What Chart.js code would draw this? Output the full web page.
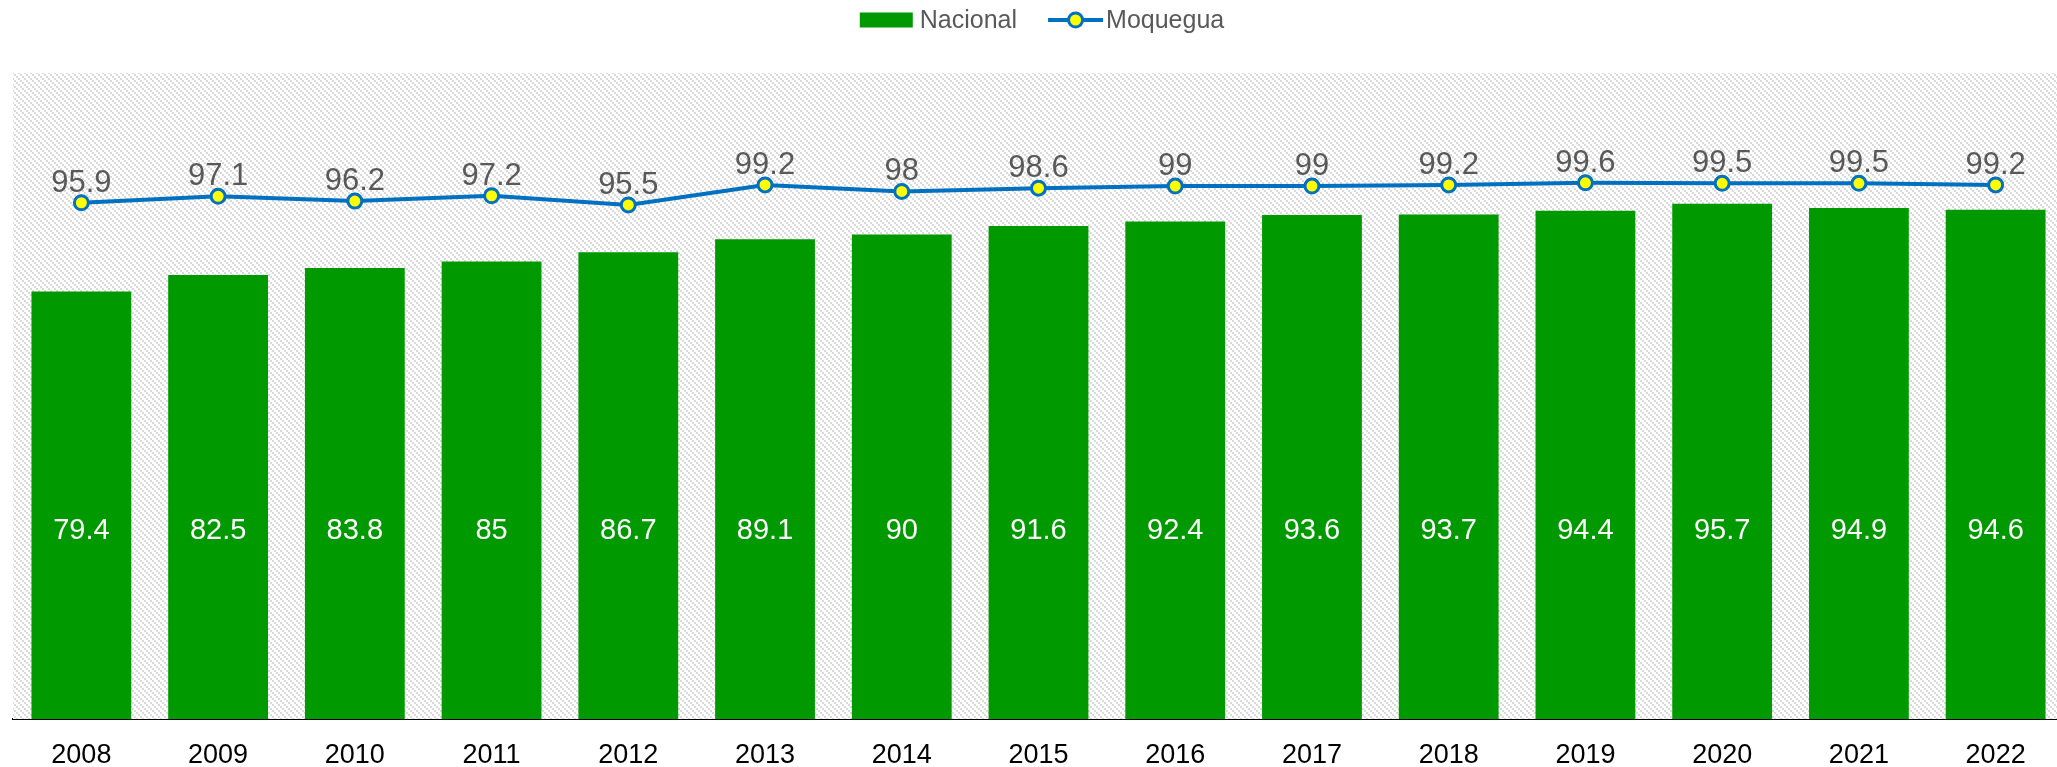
<!DOCTYPE html>
<html>
<head>
<meta charset="utf-8">
<script src="https://cdn.jsdelivr.net/npm/chart.js@4/dist/chart.umd.min.js"></script>
<style>
  html, body { margin: 0; padding: 0; background: #fff; overflow: hidden; width: 2057px; height: 767px; }
  #c { display: block; }
</style>
</head>
<body>
<canvas id="c" width="2084" height="767"></canvas>
<script>
const years = ['2008','2009','2010','2011','2012','2013','2014','2015','2016','2017','2018','2019','2020','2021','2022'];
const nacional = [79.4, 82.5, 83.8, 85, 86.7, 89.1, 90, 91.6, 92.4, 93.6, 93.7, 94.4, 95.7, 94.9, 94.6];
const moquegua = [95.9, 97.1, 96.2, 97.2, 95.5, 99.2, 98, 98.6, 99, 99, 99.2, 99.6, 99.5, 99.5, 99.2];
const seriesNames = ['Nacional', 'Moquegua'];

const GREEN = '#009900';
const BLUE = '#0070C0';
const YELLOW = '#FFFF00';
const FONT = '"Liberation Sans", Arial, sans-serif';
const NARROW = '"Liberation Sans Narrow", "Arial Narrow", "Liberation Sans", sans-serif';

function hatchPattern(ctx) {
  const n = 6;
  const t = document.createElement('canvas');
  t.width = n; t.height = n;
  const g = t.getContext('2d');
  g.fillStyle = '#ffffff';
  g.fillRect(0, 0, n, n);
  g.fillStyle = '#dadada';
  for (let k = 0; k < n; k += 2) {
    g.fillRect(k, k, 2, 2);
  }
  return ctx.createPattern(t, 'repeat');
}

const bgPlugin = {
  id: 'hatchBg',
  beforeDatasetsDraw(chart) {
    const {ctx, chartArea: a} = chart;
    ctx.save();
    ctx.fillStyle = hatchPattern(ctx);
    ctx.fillRect(a.left, a.top, a.right - a.left, a.bottom - a.top);
    ctx.restore();
  }
};

const labelPlugin = {
  id: 'valueLabels',
  afterDatasetsDraw(chart) {
    const {ctx} = chart;
    const yScale = chart.scales.y;
    ctx.save();
    const barMeta = chart.getDatasetMeta(0);
    ctx.font = '29px ' + FONT;
    ctx.fillStyle = '#ffffff';
    ctx.textAlign = 'center';
    ctx.textBaseline = 'middle';
    const ly = yScale.getPixelForValue(35);
    barMeta.data.forEach((el, i) => {
      ctx.fillText(String(nacional[i]), el.x, ly);
    });
    const lineMeta = chart.getDatasetMeta(1);
    ctx.font = '31px ' + NARROW;
    ctx.fillStyle = '#595959';
    ctx.textBaseline = 'alphabetic';
    lineMeta.data.forEach((el, i) => {
      ctx.fillText(String(moquegua[i]), el.x, el.y - 11);
    });
    ctx.restore();
  }
};

const legendPlugin = {
  id: 'customLegend',
  afterDraw(chart) {
    const {ctx} = chart;
    ctx.save();
    ctx.font = '25px ' + FONT;
    const w1 = ctx.measureText(seriesNames[0]).width;
    const w2 = ctx.measureText(seriesNames[1]).width;
    const boxW = 53, gapTxt = 7, gapItem = 31, lineW = 55, gapTxt2 = 3;
    const total = boxW + gapTxt + w1 + gapItem + lineW + gapTxt2 + w2;
    let x = chart.width / 2 - total / 2;
    const cy = 20;
    ctx.fillStyle = GREEN;
    ctx.fillRect(x, cy - 7.5, boxW, 15);
    x += boxW + gapTxt;
    ctx.fillStyle = '#595959';
    ctx.textBaseline = 'middle';
    ctx.textAlign = 'left';
    ctx.fillText(seriesNames[0], x, cy + 1);
    x += w1 + gapItem;
    ctx.strokeStyle = BLUE;
    ctx.lineWidth = 4;
    ctx.beginPath();
    ctx.moveTo(x, cy); ctx.lineTo(x + lineW, cy);
    ctx.stroke();
    ctx.beginPath();
    ctx.arc(x + lineW / 2, cy, 7, 0, Math.PI * 2);
    ctx.fillStyle = YELLOW;
    ctx.fill();
    ctx.lineWidth = 3;
    ctx.stroke();
    x += lineW + gapTxt2;
    ctx.fillStyle = '#595959';
    ctx.fillText(seriesNames[1], x, cy + 1);
    ctx.restore();
  }
};

new Chart(document.getElementById('c'), {
  data: {
    labels: years,
    datasets: [
      {
        type: 'bar',
        label: seriesNames[0],
        data: nacional,
        backgroundColor: GREEN,
        borderWidth: 0,
        categoryPercentage: 1,
        barPercentage: 0.73,
        order: 1
      },
      {
        type: 'line',
        label: seriesNames[1],
        data: moquegua,
        borderColor: BLUE,
        borderWidth: 4,
        backgroundColor: YELLOW,
        pointBackgroundColor: YELLOW,
        pointBorderColor: BLUE,
        pointBorderWidth: 3,
        pointRadius: 7,
        tension: 0,
        order: 0
      }
    ]
  },
  options: {
    responsive: false,
    animation: false,
    devicePixelRatio: 1,
    layout: { padding: { left: 13, right: 20, top: 73, bottom: 0 } },
    plugins: {
      legend: { display: false },
      tooltip: { enabled: false }
    },
    scales: {
      x: {
        grid: { display: false, drawTicks: false },
        border: { display: true, color: '#000000', width: 2 },
        ticks: { color: '#000000', font: { family: FONT, size: 27 }, padding: 20, maxRotation: 0, autoSkip: false },
        afterFit(scale) { scale.height = 48; }
      },
      y: {
        display: false,
        min: 0,
        max: 120
      }
    }
  },
  plugins: [bgPlugin, labelPlugin, legendPlugin]
});
</script>
</body>
</html>
